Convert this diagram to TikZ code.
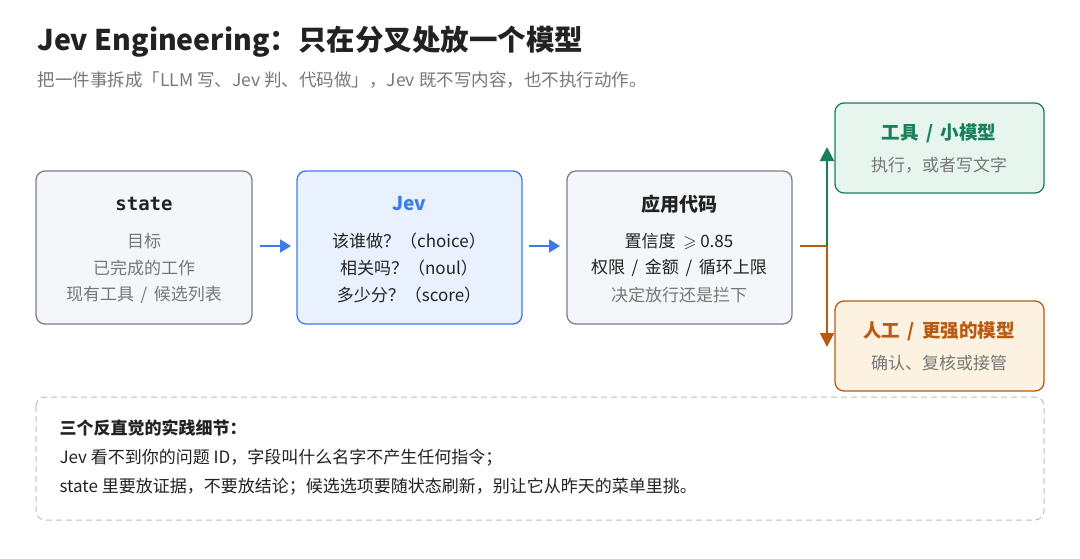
\documentclass[tikz,border=0pt]{standalone}
\usepackage{amssymb}
\usepackage{fontspec}
\setmainfont{Noto Sans CJK SC}
\newfontfamily\monof{DejaVu Sans Mono}
\usetikzlibrary{arrows.meta}
\definecolor{gborder}{HTML}{7A7F8C}
\definecolor{gfill}{HTML}{F4F6FA}
\definecolor{bborder}{HTML}{3B7BEA}
\definecolor{bfill}{HTML}{EAF1FE}
\definecolor{grn}{HTML}{17805A}
\definecolor{grnfill}{HTML}{E6F5EE}
\definecolor{org}{HTML}{B85A12}
\definecolor{orgfill}{HTML}{FDF2E2}
\definecolor{txt}{HTML}{222222}
\definecolor{sub}{HTML}{777777}
\newcommand\myslash{\ \,/\ \,}
\begin{document}
\begin{tikzpicture}[x=1pt,y=-1pt,
  box/.style={draw=gborder,fill=gfill,line width=1.3pt,rounded corners=9pt},
  ln/.style={font=\fontsize{17}{20}\selectfont,text=txt},
  lsub/.style={font=\fontsize{17}{20}\selectfont,text=sub},
  hd/.style={font=\fontsize{19}{22}\selectfont\bfseries},
  barr/.style={-{Triangle[length=11pt,width=13pt]},draw=bborder,line width=2pt}]
\useasboundingbox (0,0) rectangle (1080,558);
\fill[white] (0,0) rectangle (1080,558);
\node[anchor=west,font=\fontsize{28.5}{32}\selectfont\bfseries,text=txt] (title) at (34,42) {Jev Engineering：只在分叉处放一个模型};
\node[anchor=west,font=\fontsize{17.5}{20}\selectfont,text=sub] (subt) at (34,80) {把一件事拆成「LLM 写、Jev 判、代码做」，Jev 既不写内容，也不执行动作。};
% boxes
\draw[box] (36,171) rectangle (252,324);
\node[font=\monof\fontsize{19}{22}\selectfont\bfseries,text=txt] (state) at (144,204) {state};
\node[lsub] (s1) at (144,241) {目标};
\node[lsub] (s2) at (144,268) {已完成的工作};
\node[lsub] (s3) at (144,295) {现有工具\myslash 候选列表};
\draw[box,draw=bborder,fill=bfill] (297,171) rectangle (522,324);
\node[hd,text=bborder] (jev) at (409,204) {Jev};
\node[ln] (j1) at (409,241) {该谁做？（choice）};
\node[ln] (j2) at (409,268) {相关吗？（noul）};
\node[ln] (j3) at (409,295) {多少分？（score）};
\draw[box] (567,171) rectangle (792,324);
\node[hd,text=txt] (code) at (679,204) {应用代码};
\node[ln] (c1) at (679,241) {置信度\ \ $\geqslant$\ 0.85};
\node[ln] (c2) at (679,268) {权限\myslash 金额\myslash 循环上限};
\node[lsub] (c3) at (679,295) {决定放行还是拦下};
\draw[box,draw=grn,fill=grnfill] (835,103) rectangle (1044,193);
\node[hd,text=grn,font=\fontsize{18.5}{21}\selectfont\bfseries] (tool) at (939,133) {工具\myslash 小模型};
\node[lsub] (t1) at (939,165) {执行，或者写文字};
\draw[box,draw=org,fill=orgfill] (835,301) rectangle (1044,391);
\node[hd,text=org,font=\fontsize{18.5}{21}\selectfont\bfseries] (hum) at (939,331) {人工\myslash 更强的模型};
\node[lsub] (h1) at (939,363) {确认、复核或接管};
% arrows
\coordinate (a1) at (260,246); \coordinate (a2) at (291,246);
\coordinate (b1) at (529,246); \coordinate (b2) at (560,246);
\draw[barr] (a1) -- (a2);
\draw[barr] (b1) -- (b2);
\coordinate (br) at (827,246);
\coordinate (cs) at (800,246);
\coordinate (up) at (827,147);
\coordinate (dn) at (827,347);
\draw[org,line width=2pt,-{Triangle[length=14pt,width=14pt]}] (cs) -- (br) -- (dn);
\draw[grn,line width=2pt,-{Triangle[length=14pt,width=14pt]}] (br) -- (up);
% notes
\draw[draw=gborder!50,dashed,dash pattern=on 6pt off 4pt,line width=1pt,rounded corners=9pt] (36,397) rectangle (1044,520);
\node[anchor=west,font=\fontsize{17}{20}\selectfont\bfseries,text=txt] (n0) at (56,428) {三个反直觉的实践细节：};
\node[anchor=west,ln] (n1) at (56,458) {Jev 看不到你的问题 ID，字段叫什么名字不产生任何指令；};
\node[anchor=west,ln] (n2) at (56,487) {state 里要放证据，不要放结论；候选选项要随状态刷新，别让它从昨天的菜单里挑。};
\end{tikzpicture}
\end{document}
